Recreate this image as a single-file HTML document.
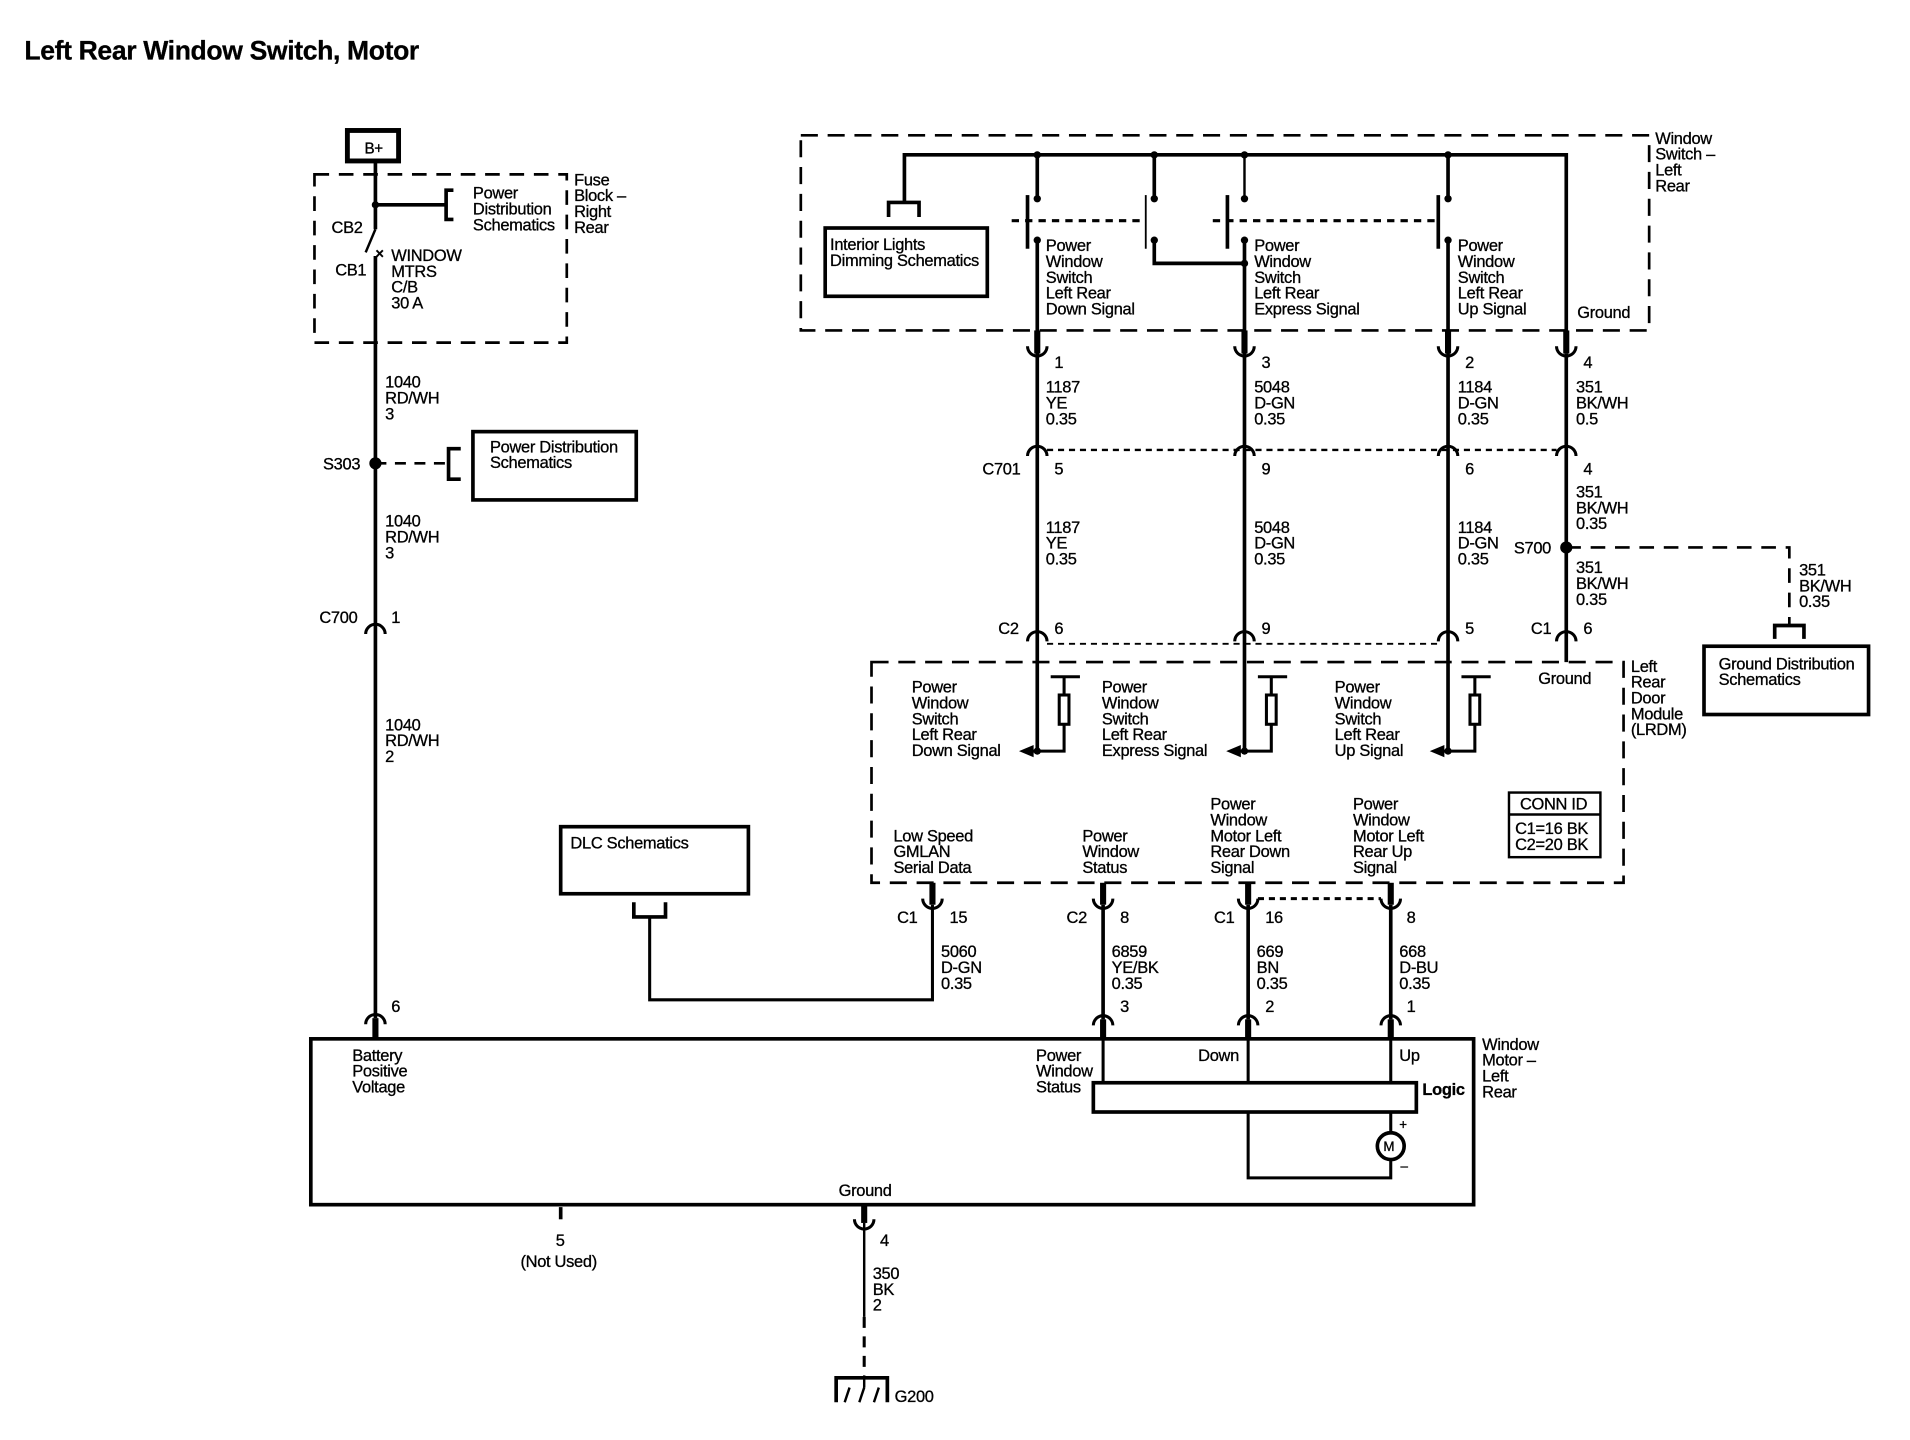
<!DOCTYPE html>
<html><head><meta charset="utf-8"><style>
html,body{margin:0;padding:0;background:#fff;}
svg{display:block;}
text{font-family:"Liberation Sans",Arial,sans-serif;font-size:13.5px;fill:#000;letter-spacing:-0.25px;stroke:#000;stroke-width:0.25px;}
.b{font-weight:bold;}
</style></head><body>
<svg width="1910" height="1440" viewBox="0 0 1567 1181" preserveAspectRatio="none" xmlns="http://www.w3.org/2000/svg">
<text x="20" y="49" style="font-size:21.8px;font-weight:bold;letter-spacing:-0.3px">Left Rear Window Switch, Motor</text>

<g fill="none" stroke="#000">
<rect x="285" y="107" width="42" height="25" stroke-width="4"/>
<rect x="258" y="143" width="207" height="138" stroke-width="2.2" stroke-dasharray="12,8"/>
<line x1="308" y1="132" x2="308" y2="188" stroke-width="3"/>
<line x1="308" y1="168" x2="366" y2="168" stroke-width="3"/>
<path d="M372 156 H366 V180 H372" stroke-width="3"/>
<line x1="308" y1="188" x2="300" y2="207" stroke-width="2"/>
<line x1="308" y1="210" x2="308" y2="835" stroke-width="3"/>
<line x1="308" y1="380" x2="366" y2="380" stroke-width="2.2" stroke-dasharray="9,7"/>
<path d="M378 368 H368 V393 H378" stroke-width="3"/>
<rect x="388" y="354" width="134" height="56" stroke-width="3"/>
<path d="M300 520 A8 8 0 0 1 316 520" stroke-width="2.5"/>
<path d="M300 840 A8 8 0 0 1 316 840" stroke-width="2.5"/>
<line x1="308" y1="835" x2="308" y2="852" stroke-width="5"/>

<rect x="657" y="111" width="696" height="160" stroke-width="2.2" stroke-dasharray="14,8"/>
<path d="M742 166 V127 H1285 V290" stroke-width="3"/>
<path d="M729 178 V166 H754 V178" stroke-width="3"/>
<rect x="677" y="187" width="133" height="56" stroke-width="3"/>
<line x1="851" y1="127" x2="851" y2="163" stroke-width="3"/>
<line x1="947" y1="127" x2="947" y2="163" stroke-width="3"/>
<line x1="1021" y1="127" x2="1021" y2="163" stroke-width="2"/>
<line x1="1188" y1="127" x2="1188" y2="163" stroke-width="3"/>
<line x1="843" y1="160" x2="843" y2="204" stroke-width="3"/>
<line x1="830" y1="181" x2="940" y2="181" stroke-width="2.5" stroke-dasharray="6,5"/>
<line x1="940" y1="160" x2="940" y2="204" stroke-width="1.5"/>
<line x1="1007" y1="160" x2="1007" y2="204" stroke-width="3"/>
<line x1="995" y1="181" x2="1180" y2="181" stroke-width="2.5" stroke-dasharray="6,5"/>
<line x1="1180" y1="160" x2="1180" y2="204" stroke-width="3"/>
<path d="M947 197 V216 H1021" stroke-width="3"/>
<line x1="851" y1="197" x2="851" y2="616" stroke-width="3"/>
<line x1="1021" y1="197" x2="1021" y2="616" stroke-width="3"/>
<line x1="1188" y1="197" x2="1188" y2="616" stroke-width="3"/>
<line x1="1285" y1="290" x2="1285" y2="543" stroke-width="3"/>
<g stroke-width="5"><line x1="851" y1="271" x2="851" y2="290"/><line x1="1021" y1="271" x2="1021" y2="290"/><line x1="1188" y1="271" x2="1188" y2="290"/><line x1="1285" y1="271" x2="1285" y2="290"/></g>
<g stroke-width="2.5">
<path d="M843 284 A8 8 0 0 0 859 284"/><path d="M1013 284 A8 8 0 0 0 1029 284"/><path d="M1180 284 A8 8 0 0 0 1196 284"/><path d="M1277 284 A8 8 0 0 0 1293 284"/>
<path d="M843 374 A8 8 0 0 1 859 374"/><path d="M1013 374 A8 8 0 0 1 1029 374"/><path d="M1180 374 A8 8 0 0 1 1196 374"/><path d="M1277 374 A8 8 0 0 1 1293 374"/>
<path d="M843 526 A8 8 0 0 1 859 526"/><path d="M1013 526 A8 8 0 0 1 1029 526"/><path d="M1180 526 A8 8 0 0 1 1196 526"/><path d="M1277 526 A8 8 0 0 1 1293 526"/>
</g>
<line x1="859" y1="369" x2="1277" y2="369" stroke-width="2" stroke-dasharray="5,4"/>
<line x1="859" y1="528" x2="1180" y2="528" stroke-width="1.5" stroke-dasharray="5,4"/>
<path d="M1285 449 H1468 V512" stroke-width="2.2" stroke-dasharray="12,8"/>
<path d="M1456 524 V513 H1480 V524" stroke-width="3"/>
<rect x="1398" y="530" width="135" height="56" stroke-width="3"/>

<rect x="715" y="543" width="617" height="181" stroke-width="2.2" stroke-dasharray="14,8"/>
<g stroke-width="2.5">
<path d="M873 555 V570 M873 594 V616 H845"/><line x1="862" y1="555" x2="886" y2="555"/><rect x="869" y="570" width="8" height="24"/>
<path d="M1043 555 V570 M1043 594 V616 H1015"/><line x1="1032" y1="555" x2="1056" y2="555"/><rect x="1039" y="570" width="8" height="24"/>
<path d="M1210 555 V570 M1210 594 V616 H1182"/><line x1="1199" y1="555" x2="1223" y2="555"/><rect x="1206" y="570" width="8" height="24"/>
</g>
<rect x="1238" y="650" width="75" height="53" stroke-width="2"/>
<line x1="1238" y1="668" x2="1313" y2="668" stroke-width="2"/>
<g stroke-width="5"><line x1="765" y1="724" x2="765" y2="742"/><line x1="905" y1="724" x2="905" y2="742"/><line x1="1024" y1="724" x2="1024" y2="742"/><line x1="1141" y1="724" x2="1141" y2="742"/></g>
<g stroke-width="2.5">
<path d="M757 737 A8 8 0 0 0 773 737"/><path d="M897 737 A8 8 0 0 0 913 737"/><path d="M1016 737 A8 8 0 0 0 1032 737"/><path d="M1133 737 A8 8 0 0 0 1149 737"/>
<path d="M897 841 A8 8 0 0 1 913 841"/><path d="M1016 841 A8 8 0 0 1 1032 841"/><path d="M1133 841 A8 8 0 0 1 1149 841"/>
</g>
<line x1="1032" y1="737" x2="1133" y2="737" stroke-width="2.5" stroke-dasharray="5,4"/>
<path d="M765 742 V820 H533 V752" stroke-width="2.5"/>
<path d="M520 740 V752 H546 V740" stroke-width="3"/>
<rect x="460" y="678" width="154" height="55" stroke-width="3"/>
<g stroke-width="3"><line x1="905" y1="742" x2="905" y2="836"/><line x1="1024" y1="742" x2="1024" y2="836"/><line x1="1141" y1="742" x2="1141" y2="836"/></g>
<g stroke-width="5"><line x1="905" y1="836" x2="905" y2="852"/><line x1="1024" y1="836" x2="1024" y2="852"/><line x1="1141" y1="836" x2="1141" y2="852"/></g>

<rect x="255" y="852" width="954" height="136" stroke-width="3"/>
<rect x="897" y="888" width="265" height="24" stroke-width="3"/>
<g stroke-width="2.5"><line x1="905" y1="852" x2="905" y2="888"/><line x1="1024" y1="852" x2="1024" y2="888"/><line x1="1141" y1="852" x2="1141" y2="888"/>
<path d="M1024 912 V966 H1141 V951 M1141 912 V929"/></g>
<circle cx="1141" cy="940" r="11" stroke-width="3"/>
<line x1="709" y1="988" x2="709" y2="1003" stroke-width="5"/>
<path d="M701 1000 A8 8 0 0 0 717 1000" stroke-width="2.5"/>
<line x1="709" y1="1003" x2="709" y2="1080" stroke-width="2"/>
<line x1="709" y1="1080" x2="709" y2="1128" stroke-width="2.5" stroke-dasharray="9,7"/>
<path d="M686 1150 V1130 H728 V1150" stroke-width="3"/>
<path d="M693 1150 L697 1138 M705 1150 L709 1138 M717 1150 L721 1138 M709 1128 V1138" stroke-width="2"/>
<line x1="460" y1="990" x2="460" y2="1000" stroke-width="3"/>
</g>
<g fill="#000">
<circle cx="308" cy="168" r="3"/><circle cx="308" cy="380" r="5"/><circle cx="1285" cy="449" r="5"/>
<circle cx="851" cy="127" r="3"/><circle cx="947" cy="127" r="3"/><circle cx="1021" cy="127" r="3"/><circle cx="1188" cy="127" r="3"/>
<circle cx="851" cy="163" r="3"/><circle cx="947" cy="163" r="3"/><circle cx="1021" cy="163" r="3"/><circle cx="1188" cy="163" r="3"/>
<circle cx="851" cy="197" r="3"/><circle cx="947" cy="197" r="3"/><circle cx="1021" cy="197" r="3"/><circle cx="1188" cy="197" r="3"/>
<circle cx="1021" cy="216" r="3"/>
<circle cx="851" cy="616" r="3"/><circle cx="1021" cy="616" r="3"/><circle cx="1188" cy="616" r="3"/>
<path d="M836 616 L848 611 L848 621 Z"/><path d="M1006 616 L1018 611 L1018 621 Z"/><path d="M1173 616 L1185 611 L1185 621 Z"/>
</g>
<text x="299" y="126" style="font-size:12.5px">B+</text>
<text x="308" y="212" style="font-size:12px;font-weight:bold">×</text>

<text y="163"><tspan x="388">Power</tspan><tspan x="388" dy="13">Distribution</tspan><tspan x="388" dy="13">Schematics</tspan></text>
<text y="152"><tspan x="471">Fuse</tspan><tspan x="471" dy="13">Block –</tspan><tspan x="471" dy="13">Right</tspan><tspan x="471" dy="13">Rear</tspan></text>
<text x="272" y="191">CB2</text><text x="275" y="226">CB1</text>
<text y="214"><tspan x="321">WINDOW</tspan><tspan x="321" dy="13">MTRS</tspan><tspan x="321" dy="13">C/B</tspan><tspan x="321" dy="13">30 A</tspan></text>
<text y="318"><tspan x="316">1040</tspan><tspan x="316" dy="13">RD/WH</tspan><tspan x="316" dy="13">3</tspan></text>
<text x="265" y="385">S303</text>
<text y="371"><tspan x="402">Power Distribution</tspan><tspan x="402" dy="13">Schematics</tspan></text>
<text y="432"><tspan x="316">1040</tspan><tspan x="316" dy="13">RD/WH</tspan><tspan x="316" dy="13">3</tspan></text>
<text x="262" y="511">C700</text><text x="321" y="511">1</text>
<text y="599"><tspan x="316">1040</tspan><tspan x="316" dy="13">RD/WH</tspan><tspan x="316" dy="13">2</tspan></text>
<text x="321" y="830">6</text>

<text y="205"><tspan x="681">Interior Lights</tspan><tspan x="681" dy="13">Dimming Schematics</tspan></text>
<text y="206"><tspan x="858">Power</tspan><tspan x="858" dy="13">Window</tspan><tspan x="858" dy="13">Switch</tspan><tspan x="858" dy="13">Left Rear</tspan><tspan x="858" dy="13">Down Signal</tspan></text>
<text y="206"><tspan x="1029">Power</tspan><tspan x="1029" dy="13">Window</tspan><tspan x="1029" dy="13">Switch</tspan><tspan x="1029" dy="13">Left Rear</tspan><tspan x="1029" dy="13">Express Signal</tspan></text>
<text y="206"><tspan x="1196">Power</tspan><tspan x="1196" dy="13">Window</tspan><tspan x="1196" dy="13">Switch</tspan><tspan x="1196" dy="13">Left Rear</tspan><tspan x="1196" dy="13">Up Signal</tspan></text>
<text x="1294" y="261">Ground</text>
<text y="118"><tspan x="1358">Window</tspan><tspan x="1358" dy="13">Switch –</tspan><tspan x="1358" dy="13">Left</tspan><tspan x="1358" dy="13">Rear</tspan></text>

<text x="865" y="302">1</text><text x="1035" y="302">3</text><text x="1202" y="302">2</text><text x="1299" y="302">4</text>
<text y="322"><tspan x="858">1187</tspan><tspan x="858" dy="13">YE</tspan><tspan x="858" dy="13">0.35</tspan></text>
<text y="322"><tspan x="1029">5048</tspan><tspan x="1029" dy="13">D-GN</tspan><tspan x="1029" dy="13">0.35</tspan></text>
<text y="322"><tspan x="1196">1184</tspan><tspan x="1196" dy="13">D-GN</tspan><tspan x="1196" dy="13">0.35</tspan></text>
<text y="322"><tspan x="1293">351</tspan><tspan x="1293" dy="13">BK/WH</tspan><tspan x="1293" dy="13">0.5</tspan></text>
<text x="806" y="389">C701</text>
<text x="865" y="389">5</text><text x="1035" y="389">9</text><text x="1202" y="389">6</text><text x="1299" y="389">4</text>
<text y="437"><tspan x="858">1187</tspan><tspan x="858" dy="13">YE</tspan><tspan x="858" dy="13">0.35</tspan></text>
<text y="437"><tspan x="1029">5048</tspan><tspan x="1029" dy="13">D-GN</tspan><tspan x="1029" dy="13">0.35</tspan></text>
<text y="437"><tspan x="1196">1184</tspan><tspan x="1196" dy="13">D-GN</tspan><tspan x="1196" dy="13">0.35</tspan></text>
<text y="408"><tspan x="1293">351</tspan><tspan x="1293" dy="13">BK/WH</tspan><tspan x="1293" dy="13">0.35</tspan></text>
<text x="1242" y="454">S700</text>
<text y="470"><tspan x="1293">351</tspan><tspan x="1293" dy="13">BK/WH</tspan><tspan x="1293" dy="13">0.35</tspan></text>
<text y="472"><tspan x="1476">351</tspan><tspan x="1476" dy="13">BK/WH</tspan><tspan x="1476" dy="13">0.35</tspan></text>
<text y="549"><tspan x="1410">Ground Distribution</tspan><tspan x="1410" dy="13">Schematics</tspan></text>
<text x="819" y="520">C2</text><text x="865" y="520">6</text><text x="1035" y="520">9</text><text x="1202" y="520">5</text>
<text x="1256" y="520">C1</text><text x="1299" y="520">6</text>
<text x="1262" y="561">Ground</text>
<text y="551"><tspan x="1338">Left</tspan><tspan x="1338" dy="13">Rear</tspan><tspan x="1338" dy="13">Door</tspan><tspan x="1338" dy="13">Module</tspan><tspan x="1338" dy="13">(LRDM)</tspan></text>

<text y="568"><tspan x="748">Power</tspan><tspan x="748" dy="13">Window</tspan><tspan x="748" dy="13">Switch</tspan><tspan x="748" dy="13">Left Rear</tspan><tspan x="748" dy="13">Down Signal</tspan></text>
<text y="568"><tspan x="904">Power</tspan><tspan x="904" dy="13">Window</tspan><tspan x="904" dy="13">Switch</tspan><tspan x="904" dy="13">Left Rear</tspan><tspan x="904" dy="13">Express Signal</tspan></text>
<text y="568"><tspan x="1095">Power</tspan><tspan x="1095" dy="13">Window</tspan><tspan x="1095" dy="13">Switch</tspan><tspan x="1095" dy="13">Left Rear</tspan><tspan x="1095" dy="13">Up Signal</tspan></text>
<text x="1247" y="664">CONN ID</text>
<text y="684"><tspan x="1243">C1=16 BK</tspan><tspan x="1243" dy="13">C2=20 BK</tspan></text>
<text y="690"><tspan x="733">Low Speed</tspan><tspan x="733" dy="13">GMLAN</tspan><tspan x="733" dy="13">Serial Data</tspan></text>
<text y="690"><tspan x="888">Power</tspan><tspan x="888" dy="13">Window</tspan><tspan x="888" dy="13">Status</tspan></text>
<text y="664"><tspan x="993">Power</tspan><tspan x="993" dy="13">Window</tspan><tspan x="993" dy="13">Motor Left</tspan><tspan x="993" dy="13">Rear Down</tspan><tspan x="993" dy="13">Signal</tspan></text>
<text y="664"><tspan x="1110">Power</tspan><tspan x="1110" dy="13">Window</tspan><tspan x="1110" dy="13">Motor Left</tspan><tspan x="1110" dy="13">Rear Up</tspan><tspan x="1110" dy="13">Signal</tspan></text>
<text x="468" y="696">DLC Schematics</text>
<text x="736" y="757">C1</text><text x="779" y="757">15</text>
<text x="875" y="757">C2</text><text x="919" y="757">8</text>
<text x="996" y="757">C1</text><text x="1038" y="757">16</text>
<text x="1154" y="757">8</text>
<text y="785"><tspan x="772">5060</tspan><tspan x="772" dy="13">D-GN</tspan><tspan x="772" dy="13">0.35</tspan></text>
<text y="785"><tspan x="912">6859</tspan><tspan x="912" dy="13">YE/BK</tspan><tspan x="912" dy="13">0.35</tspan></text>
<text y="785"><tspan x="1031">669</tspan><tspan x="1031" dy="13">BN</tspan><tspan x="1031" dy="13">0.35</tspan></text>
<text y="785"><tspan x="1148">668</tspan><tspan x="1148" dy="13">D-BU</tspan><tspan x="1148" dy="13">0.35</tspan></text>
<text x="919" y="830">3</text><text x="1038" y="830">2</text><text x="1154" y="830">1</text>

<text y="870"><tspan x="289">Battery</tspan><tspan x="289" dy="13">Positive</tspan><tspan x="289" dy="13">Voltage</tspan></text>
<text y="870"><tspan x="850">Power</tspan><tspan x="850" dy="13">Window</tspan><tspan x="850" dy="13">Status</tspan></text>
<text x="983" y="870">Down</text><text x="1148" y="870">Up</text>
<text x="1167" y="898" class="b">Logic</text>
<text x="1135" y="944" style="font-size:11px">M</text>
<text x="1148" y="926" style="font-size:11px">+</text><text x="1149" y="960" style="font-size:11px">–</text>
<text y="861"><tspan x="1216">Window</tspan><tspan x="1216" dy="13">Motor –</tspan><tspan x="1216" dy="13">Left</tspan><tspan x="1216" dy="13">Rear</tspan></text>
<text x="688" y="981">Ground</text>
<text x="456" y="1022">5</text><text x="427" y="1039">(Not Used)</text>
<text x="722" y="1022">4</text>
<text y="1049"><tspan x="716">350</tspan><tspan x="716" dy="13">BK</tspan><tspan x="716" dy="13">2</tspan></text>
<text x="734" y="1150">G200</text>
</svg>
</body></html>
